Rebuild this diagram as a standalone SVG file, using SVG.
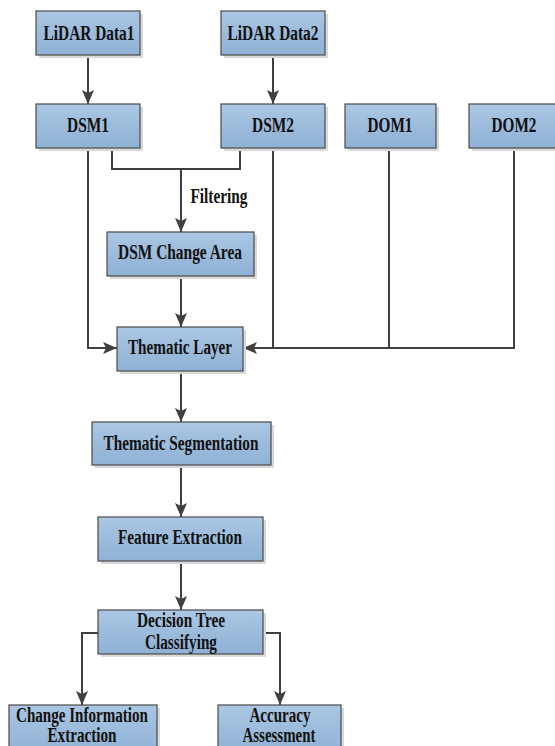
<svg xmlns="http://www.w3.org/2000/svg" width="555" height="746" viewBox="0 0 555 746">
<style>
.box{fill:url(#g);stroke:#4a4a4a;stroke-width:1.2}
.sh{fill:#d9d9d9}
.t{font-family:"Liberation Serif","Times New Roman",serif;font-weight:bold;font-size:20px;fill:#111;text-anchor:middle}
.c{fill:none;stroke:#404040;stroke-width:2}
</style>
<defs>
<linearGradient id="g" x1="0" y1="0" x2="0" y2="1">
<stop offset="0" stop-color="#abc7e3"/>
<stop offset="1" stop-color="#8eb1d5"/>
</linearGradient>
<marker id="a" viewBox="0 0 14 12" refX="14" refY="6" markerWidth="14" markerHeight="12" markerUnits="userSpaceOnUse" orient="auto">
<path d="M0,0 L14,6 L0,12 L3,6 z" fill="#404040"/>
</marker>
</defs>
<g id="connectors">
<path class="c" d="M88,55 V104" marker-end="url(#a)"/>
<path class="c" d="M273,55 V104" marker-end="url(#a)"/>
<path class="c" d="M88,148 V348 H117" marker-end="url(#a)"/>
<path class="c" d="M112,148 V169 H240 V148"/>
<path class="c" d="M181,169 V232" marker-end="url(#a)"/>
<path class="c" d="M181,276 V327" marker-end="url(#a)"/>
<path class="c" d="M273,148 V348"/>
<path class="c" d="M389,148 V348"/>
<path class="c" d="M514,148 V348 H243" marker-end="url(#a)"/>
<path class="c" d="M181,371 V422" marker-end="url(#a)"/>
<path class="c" d="M181,465 V517" marker-end="url(#a)"/>
<path class="c" d="M181,561 V610" marker-end="url(#a)"/>
<path class="c" d="M98,633 H82 V705" marker-end="url(#a)"/>
<path class="c" d="M263,633 H280 V705" marker-end="url(#a)"/>
<text class="t" x="219" y="203" textLength="57" lengthAdjust="spacingAndGlyphs">Filtering</text>
</g>
<g id="lidar1"><rect class="sh" x="39" y="14" width="104" height="44"/><rect class="box" x="36" y="11" width="104" height="44"/><text class="t" x="89" y="40" textLength="91" lengthAdjust="spacingAndGlyphs">LiDAR Data1</text></g>
<g id="lidar2"><rect class="sh" x="224" y="14" width="104" height="44"/><rect class="box" x="221" y="11" width="104" height="44"/><text class="t" x="273" y="40" textLength="91" lengthAdjust="spacingAndGlyphs">LiDAR Data2</text></g>
<g id="dsm1"><rect class="sh" x="39" y="107" width="104" height="44"/><rect class="box" x="36" y="104" width="104" height="44"/><text class="t" x="88" y="132" textLength="42" lengthAdjust="spacingAndGlyphs">DSM1</text></g>
<g id="dsm2"><rect class="sh" x="224" y="107" width="104" height="44"/><rect class="box" x="221" y="104" width="104" height="44"/><text class="t" x="273" y="132" textLength="42" lengthAdjust="spacingAndGlyphs">DSM2</text></g>
<g id="dom1"><rect class="sh" x="348" y="107" width="91" height="44"/><rect class="box" x="345" y="104" width="91" height="44"/><text class="t" x="390" y="132" textLength="45" lengthAdjust="spacingAndGlyphs">DOM1</text></g>
<g id="dom2"><rect class="sh" x="472" y="107" width="91" height="44"/><rect class="box" x="469" y="104" width="91" height="44"/><text class="t" x="514" y="132" textLength="45" lengthAdjust="spacingAndGlyphs">DOM2</text></g>
<g id="dsmchange"><rect class="sh" x="110" y="235" width="147" height="44"/><rect class="box" x="107" y="232" width="147" height="44"/><text class="t" x="180" y="259" textLength="124" lengthAdjust="spacingAndGlyphs">DSM Change Area</text></g>
<g id="thematic"><rect class="sh" x="120" y="330" width="126" height="44"/><rect class="box" x="117" y="327" width="126" height="44"/><text class="t" x="180" y="354" textLength="104" lengthAdjust="spacingAndGlyphs">Thematic Layer</text></g>
<g id="segmentation"><rect class="sh" x="95" y="425" width="179" height="43"/><rect class="box" x="92" y="422" width="179" height="43"/><text class="t" x="181" y="450" textLength="155" lengthAdjust="spacingAndGlyphs">Thematic Segmentation</text></g>
<g id="feature"><rect class="sh" x="101" y="520" width="165" height="44"/><rect class="box" x="98" y="517" width="165" height="44"/><text class="t" x="180" y="544" textLength="124" lengthAdjust="spacingAndGlyphs">Feature Extraction</text></g>
<g id="decision"><rect class="sh" x="101" y="613" width="165" height="44"/><rect class="box" x="98" y="610" width="165" height="44"/><text class="t" x="181" y="627" textLength="88" lengthAdjust="spacingAndGlyphs">Decision Tree</text><text class="t" x="181" y="649" textLength="72" lengthAdjust="spacingAndGlyphs">Classifying</text></g>
<g id="changeinfo"><rect class="sh" x="12" y="708" width="148" height="50"/><rect class="box" x="9" y="705" width="148" height="50"/><text class="t" x="82" y="722" textLength="132" lengthAdjust="spacingAndGlyphs">Change Information</text><text class="t" x="82" y="742" textLength="69" lengthAdjust="spacingAndGlyphs">Extraction</text></g>
<g id="accuracy"><rect class="sh" x="221" y="708" width="123" height="50"/><rect class="box" x="218" y="705" width="123" height="50"/><text class="t" x="280" y="722" textLength="61" lengthAdjust="spacingAndGlyphs">Accuracy</text><text class="t" x="279" y="742" textLength="73" lengthAdjust="spacingAndGlyphs">Assessment</text></g>
</svg>
